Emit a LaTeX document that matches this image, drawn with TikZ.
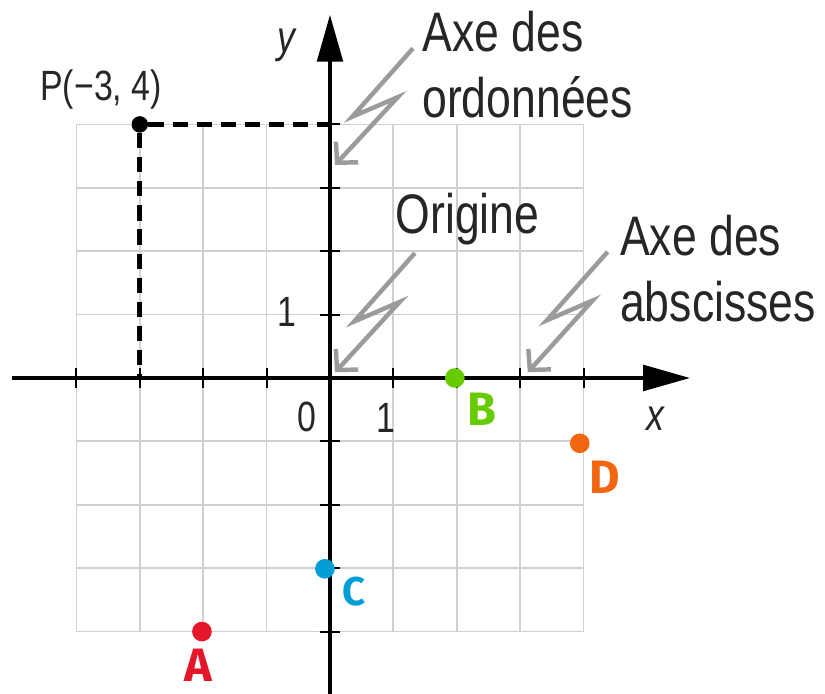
\documentclass[tikz,border=0pt]{standalone}
\usepackage{fontspec}
\setmainfont{Liberation Sans}[FakeStretch=0.8]
\newfontfamily\handfont{Fira Sans}
\usetikzlibrary{arrows.meta,positioning}
\definecolor{ink}{RGB}{0,0,0}
\definecolor{gridgray}{RGB}{208,208,208}
\definecolor{pointer}{RGB}{155,155,155}
\definecolor{ptA}{RGB}{228,22,42}
\definecolor{ptB}{RGB}{102,204,0}
\definecolor{ptC}{RGB}{0,157,214}
\definecolor{ptD}{RGB}{242,102,18}

\begin{document}
\begin{tikzpicture}[axis/.style={line width=1.9pt,draw=ink,-{Triangle[length=7.4mm,width=4mm]}},tick/.style={line width=0.9pt,draw=ink},ann/.style={font=\fontsize{25}{29.6}\selectfont,align=left,inner sep=0pt,anchor=north west,text=ink!85},num/.style={font=\fontsize{19}{19}\selectfont,inner sep=0pt,text=ink!85},zigzag/.style={draw=pointer,line width=2pt,-{Straight Barb[length=2.3mm,width=4.8mm]}},guide/.style={draw=ink,line width=2.2pt,dash pattern=on 2.4mm off 1.4mm},dot/.style={circle,inner sep=0pt,minimum size=3.1mm},lbl/.style={font=\handfont\bfseries\fontsize{21}{21}\selectfont,inner sep=0pt}]
\useasboundingbox (-5.205,-4.984) rectangle (7.808,5.962);
\draw[gridgray,line width=0.8pt] (-4,-4) grid (4,4);
\coordinate (xStart) at (-5.02,0); \coordinate (xEnd) at (5.68,0);
\coordinate (yStart) at (0,-5.1); \coordinate (yEnd) at (0,5.73);
\draw[axis] (xStart) -- (xEnd);
\draw[axis] (yStart) -- (yEnd);
\foreach \t in {-4,-3,-2,-1,1,2,3,4} {\draw[tick] (\t,-0.16) -- (\t,0.16); \draw[tick] (-0.16,\t) -- (0.16,\t);}
\node[dot,fill=ink,minimum size=2.6mm] (P) at (-3,4) {};
\coordinate (Py) at (0,4); \coordinate (Px) at (-3,0);
\draw[guide] (P) -- (Py);
\draw[guide] (P) -- (Px);
\node[font=\fontsize{19}{19}\selectfont,inner sep=0pt,anchor=north west,text=ink!85] (Plabel) at (-4.575,4.87) {P(−3, 4)};
\node[num] (yOne) at (-0.68,1.04) {1};
\node[num] (xOne) at (0.88,-0.63) {1};
\node[num] (zero) at (-0.36,-0.61) {0};
\node[num,font=\fontsize{20}{20}\selectfont\itshape] (xName) at (5.13,-0.65) {x};
\node[num,font=\fontsize{20}{20}\selectfont\itshape] (yName) at (-0.68,5.25) {y};
\node[ann] (ordo) at (1.45,5.79) {Axe des\\ordonnées};
\node[ann] (origine) at (1.03,2.93) {Origine};
\node[ann] (absc) at (4.57,2.57) {Axe des\\abscisses};
\coordinate (ordoTail) at (1.31,5.20); \coordinate (ordoTip) at (0.08,3.36);
\coordinate (origTail) at (1.34,1.97); \coordinate (origTip) at (0.08,0.09);
\coordinate (abscTail) at (4.38,1.99); \coordinate (abscTip) at (3.12,0.09);
\draw[zigzag] (ordoTail) -- ++(-0.96,-1.08) -- ++(0.72,0.31) -- (ordoTip);
\draw[zigzag] (origTail) -- ++(-0.96,-1.08) -- ++(0.72,0.31) -- (origTip);
\draw[zigzag] (abscTail) -- ++(-0.96,-1.08) -- ++(0.72,0.31) -- (abscTip);
\node[dot,fill=ptA] (A) at (-2.02,-4) {};
\node[dot,fill=ptB] (B) at (1.97,0) {};
\node[dot,fill=ptC] (C) at (-0.08,-3.01) {};
\node[dot,fill=ptD] (D) at (3.94,-1.03) {};
\node[lbl,text=ptA] (labA) at (-2.08,-4.53) {A};
\node[lbl,text=ptB] (labB) at (2.4,-0.5) {B};
\node[lbl,text=ptC,font=\handfont\bfseries\fontsize{18}{18}\selectfont] (labC) at (0.38,-3.37) {C};
\node[lbl,text=ptD] (labD) at (4.34,-1.56) {D};
\end{tikzpicture}
\end{document}
